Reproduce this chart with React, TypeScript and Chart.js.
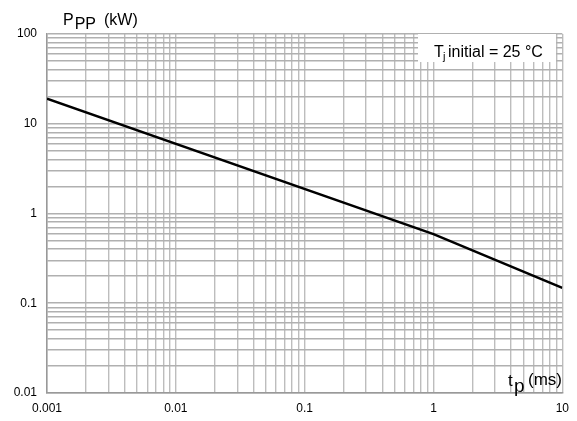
import { useEffect, useRef } from "react";
import { Chart, registerables } from "chart.js";

Chart.register(...registerables);

// Axis decades (tick labels)
const X_DECADES = [0.001, 0.01, 0.1, 1, 10];
const Y_DECADES = [0.01, 0.1, 1, 10, 100];

// Curve: peak pulse power vs pulse duration
const TP_MS = [0.001, 1, 10];
const PPP_KW = [19, 0.59, 0.148];

const FONT = "'Liberation Sans', Arial, Helvetica, sans-serif";

function fullLogTicks(decades: number[]) {
  const out: number[] = [];
  for (let i = 0; i < decades.length; i++) {
    const d = decades[i];
    if (i === decades.length - 1) {
      out.push(d);
      break;
    }
    for (let m = 1; m <= 9; m++) out.push(Number((d * m).toPrecision(4)));
  }
  return out;
}

function isDecade(v: number) {
  const l = Math.log10(v);
  return Math.abs(l - Math.round(l)) < 1e-6;
}

const labelPlugin = {
  id: "labels",
  afterDraw(chart: any) {
    const ctx = chart.ctx as CanvasRenderingContext2D;
    ctx.save();
    ctx.fillStyle = "#000";
    ctx.textBaseline = "alphabetic";
    ctx.textAlign = "left";

    // Y axis title: P_PP (kW)
    ctx.font = `16px ${FONT}`;
    let x = 63;
    ctx.fillText("P", x, 25);
    x += ctx.measureText("P").width + 1;
    ctx.fillText("PP", x, 29);
    x += ctx.measureText("PP").width + 8;
    ctx.fillText("(kW)", x, 25);

    // X axis title: t_p (ms)
    ctx.font = `17px ${FONT}`;
    ctx.fillText("t", 508, 386);
    ctx.font = `19px ${FONT}`;
    ctx.fillText("p", 514, 392);
    ctx.font = `17px ${FONT}`;
    ctx.fillText("(ms)", 528, 385);

    // Condition box
    ctx.fillStyle = "#fff";
    ctx.fillRect(418, 34, 138, 28);
    ctx.fillStyle = "#000";
    ctx.font = `16px ${FONT}`;
    ctx.fillText("T", 434, 57);
    ctx.font = `11px ${FONT}`;
    ctx.fillText("j", 443, 60);
    ctx.font = `16px ${FONT}`;
    ctx.fillText("initial = 25 °C", 448, 57);
    ctx.restore();
  },
};

export default function App() {
  const ref = useRef<HTMLCanvasElement>(null);

  useEffect(() => {
    document.body.style.margin = "0";
    if (!ref.current) return;
    const tickFont = { family: FONT, size: 12 };
    const chart = new Chart(ref.current, {
      type: "line",
      data: {
        datasets: [
          {
            data: TP_MS.map((t, i) => ({ x: t, y: PPP_KW[i] })),
            borderColor: "#000",
            borderWidth: 2.5,
            pointRadius: 0,
            fill: false,
            tension: 0,
          },
        ],
      },
      options: {
        animation: false,
        responsive: true,
        maintainAspectRatio: false,
        layout: { padding: { top: 34, right: 13, left: 0, bottom: 0 } },
        plugins: {
          legend: { display: false },
          tooltip: { enabled: false },
        },
        scales: {
          x: {
            type: "logarithmic",
            min: X_DECADES[0],
            max: X_DECADES[X_DECADES.length - 1],
            afterBuildTicks: (s: any) => {
              s.ticks = fullLogTicks(X_DECADES).map((v) => ({ value: v }));
            },
            afterFit: (s: any) => {
              s.height = 28;
            },
            ticks: {
              autoSkip: false,
              maxRotation: 0,
              color: "#000",
              font: tickFont,
              padding: 8,
              callback: (v: any) => (isDecade(Number(v)) ? String(Number(v)) : ""),
            },
            grid: { color: "#bdbdbd", drawTicks: false, lineWidth: 1.4 },
            border: { color: "#999", width: 1.5 },
          },
          y: {
            type: "logarithmic",
            min: Y_DECADES[0],
            max: Y_DECADES[Y_DECADES.length - 1],
            afterBuildTicks: (s: any) => {
              s.ticks = fullLogTicks(Y_DECADES).map((v) => ({ value: v }));
            },
            afterFit: (s: any) => {
              s.width = 47;
            },
            ticks: {
              autoSkip: false,
              color: "#000",
              font: tickFont,
              padding: 10,
              callback: (v: any) => (isDecade(Number(v)) ? String(Number(v)) : ""),
            },
            grid: { color: "#b0b0b0", drawTicks: false, lineWidth: 1.6 },
            border: { color: "#999", width: 1.5 },
          },
        },
      },
      plugins: [labelPlugin],
    });
    return () => chart.destroy();
  }, []);

  return (
    <div style={{ position: "relative", width: 577, height: 421, background: "#fff" }}>
      <canvas ref={ref} />
    </div>
  );
}
